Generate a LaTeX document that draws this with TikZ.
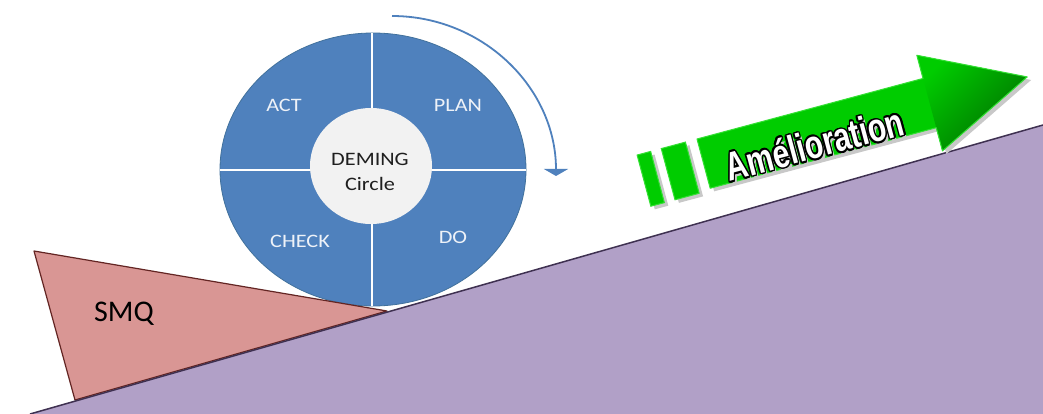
\documentclass[tikz,border=0pt]{standalone}
\usepackage{fontspec}
\setmainfont{Carlito}
\newfontfamily\bannerfont{Liberation Sans}
\usetikzlibrary{arrows.meta}

\definecolor{pdcablue}{HTML}{4F81BD}
\definecolor{pdcaedge}{HTML}{41719C}
\definecolor{hubgray}{HTML}{F2F2F2}
\definecolor{labelwhite}{HTML}{EEF2F8}
\definecolor{hubtext}{HTML}{1F1F1F}
\definecolor{smqfill}{HTML}{D99694}
\definecolor{smqedge}{HTML}{632523}
\definecolor{slopefill}{HTML}{B1A0C7}
\definecolor{slopeedge}{HTML}{3F3151}
\definecolor{gbright}{HTML}{00CC00}
\definecolor{gdark}{HTML}{007000}
\definecolor{gedge}{HTML}{33E033}
\definecolor{shadowgray}{HTML}{C8C8C8}

\tikzset{
  quarterlabel/.style={text=labelwhite, inner sep=0pt, xscale=1.17,
    font=\fontsize{19}{20}\selectfont},
  hublabel/.style={text=hubtext, inner sep=0pt, xscale=1.17, align=center,
    font=\fontsize{19}{25}\selectfont},
  divider/.style={white, line width=2.5pt},
  cyclearrow/.style={pdcablue, line width=1.8pt,
    -{Triangle[width=24pt,length=7pt]}},
  arrowshape/.style={insert path={(0,0) -- (234,0) -- (234,-24) -- (335,25.5)
    -- (234,75) -- (234,51) -- (0,51) -- cycle}},
  bannertext/.style={inner sep=0pt, anchor=base, rotate=15, xscale=0.75,
    font=\bannerfont\bfseries\fontsize{40}{40}\selectfont},
}

\begin{document}
\begin{tikzpicture}[x=1pt, y=-1pt]
  \useasboundingbox[fill=white] (0,0) rectangle (1043,414);

  % PDCA wheel
  \filldraw[fill=pdcablue, draw=pdcaedge, line width=0.8pt]
    (373,169.5) ellipse [x radius=153, y radius=136.5];
  \draw[divider] (372,33) -- (372,306);
  \draw[divider] (220,170) -- (526,170);
  \fill[hubgray] (371,166) ellipse [x radius=61, y radius=58];

  \node[quarterlabel] (act)   at (284,105) {ACT};
  \node[quarterlabel] (plan)  at (458,105) {PLAN};
  \node[quarterlabel] (check) at (300,241) {CHECK};
  \node[quarterlabel] (do)    at (453,237) {DO};
  \node[hublabel]     (hub)   at (370,172) {DEMING\\Circle};

  % direction of the cycle
  \coordinate (cyclestart) at (392,16);
  \draw[cyclearrow] (cyclestart) arc [start angle=-90, end angle=0,
    x radius=164, y radius=160];

  % quality management wedge
  \filldraw[fill=smqfill, draw=smqedge, line width=1.2pt, line join=round]
    (34,251) -- (387,311) -- (75,400) -- cycle;
  \node[font=\fontsize{30}{30}\selectfont, inner sep=0pt] (smq) at (124,314) {SMQ};

  % slope
  \fill[slopefill] (30,414) -- (1043,125) -- (1043,414) -- cycle;
  \draw[slopeedge, line width=1.5pt] (30,414) -- (1043,125);

  % improvement arrow
  \begin{scope}[shift={(697,139)}, rotate=15]
    \begin{scope}[shift={(3,4)}]
      \fill[shadowgray, arrowshape];
      \fill[shadowgray] (-37,0) rectangle (-12,53);
      \fill[shadowgray] (-62,0) rectangle (-48,53);
    \end{scope}
    \fill[gbright, arrowshape];
    \shade[top color=gbright, bottom color=gdark, shading angle=45]
      (234,-24) -- (335,25.5) -- (234,75) -- cycle;
    \draw[gedge, line width=1pt, line join=round, arrowshape];
    \filldraw[fill=gbright, draw=gedge, line width=1pt] (-37,0) rectangle (-12,53);
    \filldraw[fill=gbright, draw=gedge, line width=1pt] (-62,0) rectangle (-48,53);
  \end{scope}

  % banner word: drop shadow, black contour ring, white face
  \node[bannertext, text=shadowgray] (amelshadow) at (821,162) {Amélioration};
  \foreach \a [count=\k] in {0,22.5,...,337.5}
    \node[bannertext, text=black, shift={(\a:1.8)}] (amel\k) at (818,158) {Amélioration};
  \node[bannertext, text=white] (amel) at (818,158) {Amélioration};
\end{tikzpicture}
\end{document}
